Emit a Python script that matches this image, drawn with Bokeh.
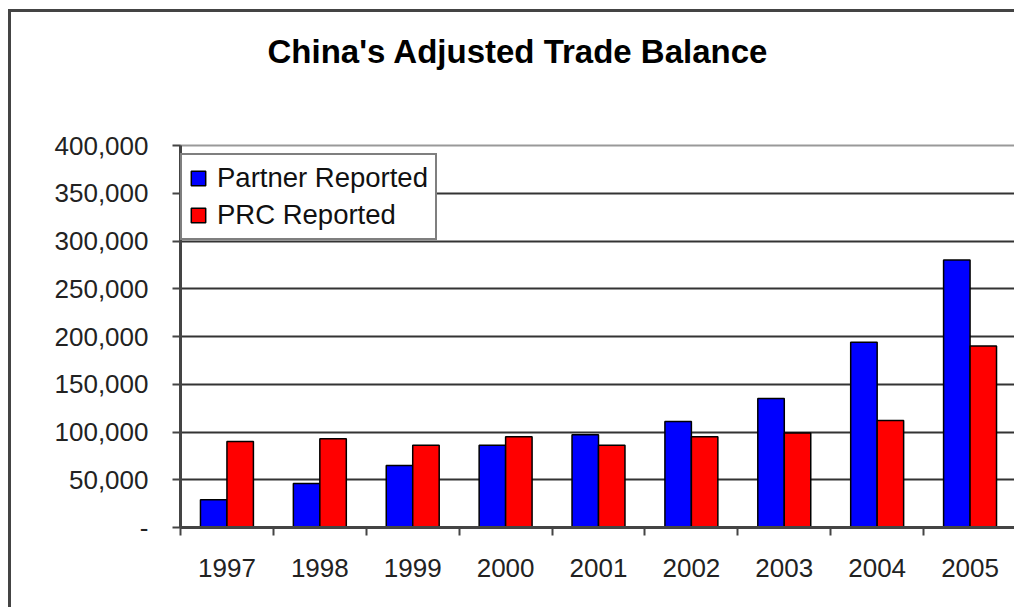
from bokeh.plotting import figure
from bokeh.models import (Range1d, FixedTicker, NumeralTickFormatter, Legend, LegendItem, Title)
from bokeh.embed import file_html
from bokeh.resources import INLINE

years = ["1997", "1998", "1999", "2000", "2001", "2002", "2003", "2004", "2005"]
partner_reported = [29000, 46000, 65000, 86000, 97000, 111000, 135000, 194000, 280000]
prc_reported = [90000, 93000, 86000, 95000, 86000, 95000, 99000, 112000, 190000]
y_ticks = [0, 50000, 100000, 150000, 200000, 250000, 300000, 350000, 400000]
title_text = "China's Adjusted Trade Balance"

FONT = "Liberation Sans"
BAR_W = 0.285

p = figure(width=1006, height=598, output_backend="svg", toolbar_location=None,
           x_range=Range1d(0, len(years)), y_range=Range1d(0, 400000),
           min_border_left=169, min_border_right=1, min_border_top=133, min_border_bottom=83)
p.title = None
# spacer between plot area and title
p.add_layout(Title(text=" ", text_font_size="1px", standoff=72), "above")
p.add_layout(Title(text=title_text, align="left",
                   text_font=FONT, text_font_size="33px", text_font_style="bold",
                   text_color="#000000", offset=87, standoff=2), "above")

centers = [i + 0.5 for i in range(len(years))]
xb = [c - BAR_W / 2 for c in centers]
xr = [c + BAR_W / 2 for c in centers]

r1 = p.vbar(x=xb, top=partner_reported, width=BAR_W, bottom=0,
            fill_color="#0000FF", line_color="#000000", line_width=1.5)
r2 = p.vbar(x=xr, top=prc_reported, width=BAR_W, bottom=0,
            fill_color="#FF0000", line_color="#000000", line_width=1.5)

# y axis
p.yaxis.ticker = FixedTicker(ticks=y_ticks)
p.yaxis.formatter = NumeralTickFormatter(format="0,0")
p.yaxis.major_label_overrides = {0: "-"}
p.yaxis.major_label_text_font = FONT
p.yaxis.major_label_text_font_size = "26px"
p.yaxis.major_label_text_color = "#222222"
p.yaxis.major_label_standoff = 24
p.yaxis.major_tick_out = 8
p.yaxis.major_tick_in = 0
p.yaxis.minor_tick_out = 0
p.yaxis.minor_tick_in = 0
p.yaxis.axis_line_color = "#444444"
p.yaxis.axis_line_width = 3
p.yaxis.major_tick_line_color = "#444444"
p.yaxis.major_tick_line_width = 2

# x axis
p.xaxis.ticker = FixedTicker(ticks=centers, minor_ticks=list(range(len(years) + 1)))
p.xaxis.major_label_overrides = {c: y for c, y in zip(centers, years)}
p.xaxis.major_label_text_font = FONT
p.xaxis.major_label_text_font_size = "26px"
p.xaxis.major_label_text_color = "#222222"
p.xaxis.major_label_standoff = 23
p.xaxis.major_tick_out = 0
p.xaxis.major_tick_in = 0
p.xaxis.minor_tick_out = 8
p.xaxis.minor_tick_in = 0
p.xaxis.minor_tick_line_color = "#444444"
p.xaxis.minor_tick_line_width = 2
p.xaxis.axis_line_color = "#444444"
p.xaxis.axis_line_width = 3

p.xgrid.visible = False
p.ygrid.ticker = FixedTicker(ticks=y_ticks)
p.ygrid.grid_line_color = "#333333"
p.ygrid.grid_line_width = 2

p.outline_line_color = "#999999"
p.outline_line_width = 2
p.background_fill_color = "#FFFFFF"
p.border_fill_color = "#FFFFFF"

legend = Legend(items=[LegendItem(label="Partner Reported", renderers=[r1]),
                       LegendItem(label="PRC Reported", renderers=[r2])],
                location=(0, 287))
legend.label_text_font = FONT
legend.label_text_font_size = "27.5px"
legend.label_text_color = "#111111"
legend.glyph_width = 18
legend.glyph_height = 18
legend.label_standoff = 10
legend.spacing = 5
legend.padding = 7
legend.margin = 0
legend.border_line_color = "#000000"
legend.border_line_width = 2
legend.background_fill_color = "#FFFFFF"
legend.background_fill_alpha = 1.0
p.add_layout(legend, "center")

p.styles = {"border-left": "3px solid #444444", "border-top": "3px solid #444444",
            "margin-left": "8px", "margin-top": "9px"}

open("out.html", "w").write(file_html(p, INLINE))
